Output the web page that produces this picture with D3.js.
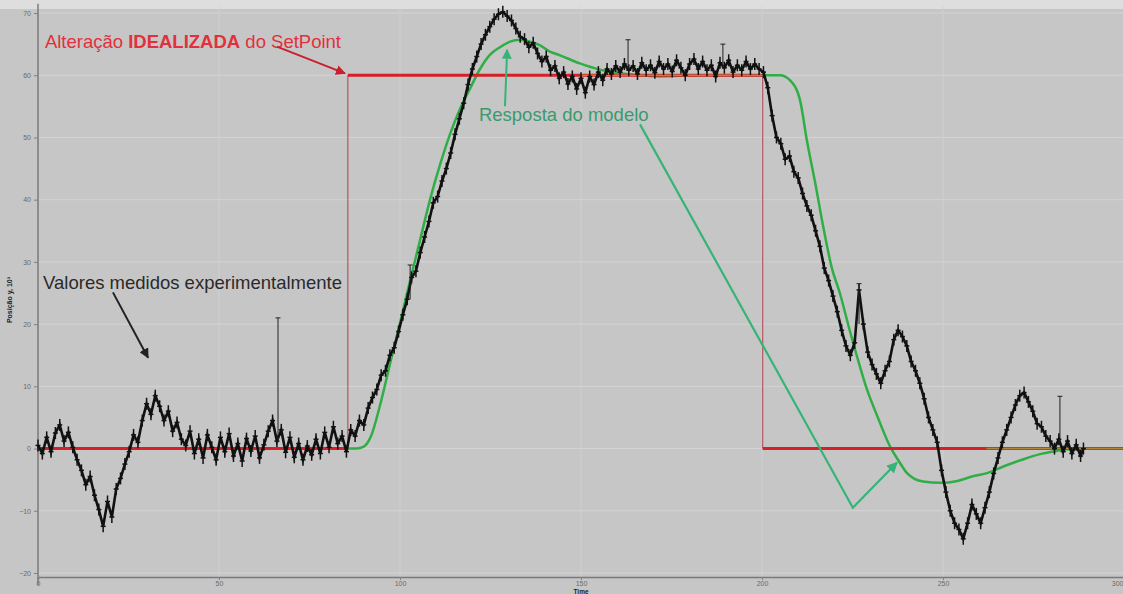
<!DOCTYPE html>
<html>
<head>
<meta charset="utf-8">
<script src="https://cdn.jsdelivr.net/npm/d3@7"></script>
<style>
  html, body { margin: 0; padding: 0; background: #c6c6c6; }
  svg { display: block; }
  text { font-family: "Liberation Sans", Arial, sans-serif; }
</style>
</head>
<body>
<svg id="chart" width="1123" height="594"></svg>
<script>
// Axis ticks
const xTicks = [0, 50, 100, 150, 200, 250, 300];
const yTicks = [-20, -10, 0, 10, 20, 30, 40, 50, 60, 70];

// Setpoint (idealised step change)
const setpointT = [0, 85.6, 85.6, 200.2, 200.2, 300];
const setpointV = [0, 0, 60, 60, 0, 0];

// Model response
const modelT = [0, 88, 90, 92, 94.5, 97.2, 100, 102.8, 105.5, 108.3, 111, 113.8, 116.6, 119.3, 122.1, 124.9, 127.6, 130.4, 133.1, 135.9, 138.7, 141.4, 144.2, 149.7, 155.2, 160.8, 166.3, 171.8, 182.9, 193.9, 205, 207.7, 210.5, 212.4, 214.6, 216.9, 219.3, 221.5, 224, 226.5, 229, 232, 235.4, 238, 240, 244.5, 249.2, 254, 258, 262.4, 267, 271.8, 276.8, 282, 287.8, 300];
const modelV = [0, 0, 0.3, 2, 7, 13.5, 20.2, 27, 33.4, 40, 45.5, 50.5, 54.6, 57.8, 61, 63.3, 64.5, 65.4, 65.7, 65.4, 64.8, 63.8, 63.2, 61.9, 60.9, 60.3, 60, 59.8, 60, 60, 60, 59.2, 56, 49.5, 43, 35.7, 29, 25, 19.5, 14.3, 9.5, 5, 0.3, -2.2, -3.9, -5.3, -5.5, -5.2, -4.5, -3.9, -2.8, -1.8, -0.9, -0.3, 0, 0];

// Experimental measurements [time, value]
const measured = [
[0,0.5],[1.2,-0.8],[2.4,1.8],[3.6,-0.5],[4.8,2.5],[6,3.8],[7.2,1.2],[8.4,2.6],[9.6,0.2],[10.8,-1.8],[12,-3.5],[13.2,-5.8],[14.4,-4.5],[15.6,-7.5],[16.8,-9.8],[18,-12.5],[19.2,-8.5],[20.4,-11],[21.6,-6.5],[22.8,-4.8],[24,-2.5],[25.2,-0.5],[26.4,2.2],[27.6,1],[28.8,4.5],[30,7.2],[31.2,5.5],[32.4,8.5],[33.6,6.8],[34.8,4.5],[36,6],[37.2,2.8],[38.4,4.2],[39.6,1.5],[40.8,0.5],[42,2.8],[43.2,-0.8],[44.4,1.5],[45.6,-1.5],[46.8,2.2],[48,0.2],[49.2,-1.8],[50.4,1.8],[51.6,-0.5],[52.8,2.4],[54,-1.2],[55.2,0.8],[56.4,-2],[57.6,1.6],[58.8,-0.4],[60,2],[61.2,-1.5],[62.4,0.6],[63.6,2.8],[64.8,4.5],[66,1.2],[67.2,3],[68.4,-0.6],[69.6,1.8],[70.8,-1.4],[72,0.8],[73.2,-1.8],[74.4,0.4],[75.6,-1],[76.8,1.5],[78,-0.8],[79.2,2.6],[80.4,0.2],[81.6,3.5],[82.8,0.8],[84,2],[85.2,-0.5],[86.4,3],[87.6,2],[88.8,4.5],[90,3.8],[91.2,6.5],[92.4,8.2],[93.6,9.5],[94.8,11.8],[96,12.5],[97.2,15],[98.4,16.2],[99.6,18.8],[100.8,21.5],[102,24],[103.2,27.5],[104.4,28.5],[105.6,31.5],[106.8,34],[108,36.5],[109.2,39.5],[110.4,40.5],[111.6,43],[112.8,45],[114,47.5],[115.2,50.5],[116.4,53],[117.6,55.5],[118.8,58.5],[120,61],[121.2,63],[122.4,65],[123.6,66.5],[124.8,67.8],[126,69],[127.2,69.8],[128.4,70.2],[129.6,69.5],[130.8,68.8],[132,67.5],[133.2,66.2],[134.4,65.8],[135.6,64.5],[136.8,65.2],[138,63.5],[139.2,62.2],[140.4,63],[141.6,60.8],[142.8,61.5],[144,59.5],[145.2,60.5],[146.4,58.6],[147.6,59.8],[148.8,57.8],[150,59.5],[151.2,57.2],[152.4,59.8],[153.6,58.5],[154.8,60.5],[156,59.2],[157.2,61],[158.4,60.2],[159.6,61.5],[160.8,60.5],[162,61.8],[163.2,60.8],[164.4,61.5],[165.6,60.2],[166.8,62],[168,60.8],[169.2,61.6],[170.4,60.4],[171.6,62.2],[172.8,61],[174,61.8],[175.2,60.6],[176.4,62.4],[177.6,61.2],[178.8,60],[180,61.8],[181.2,62.6],[182.4,61],[183.6,62.2],[184.8,60.8],[186,61.6],[187.2,59.8],[188.4,62],[189.6,61.2],[190.8,62.4],[192,60.5],[193.2,61.6],[194.4,60.8],[195.6,62.2],[196.8,61],[198,61.8],[199.2,61],[200.4,60.5],[201.6,58],[202.8,53.5],[204,50],[205.2,49],[206.4,46.5],[207.6,47],[208.8,44.5],[210,43.5],[211.2,41],[212.4,39],[213.6,37.5],[214.8,35],[216,32.5],[217.2,29],[218.4,27],[219.6,24.5],[220.8,22],[222,19],[223.2,16.5],[224.4,15],[225.6,17],[226.8,25.5],[228,20],[229.2,15.5],[230.4,13.5],[231.6,12],[232.8,10.5],[234,12.5],[235.2,14],[236.4,17.5],[237.6,19],[238.8,18],[240,16.5],[241.2,14],[242.4,12.5],[243.6,10.5],[244.8,8],[246,5],[247.2,3],[248.4,1],[249.6,-3.5],[250.8,-7],[252,-10],[253.2,-12],[254.4,-13],[255.6,-14.5],[256.8,-12],[258,-9],[259.2,-10.5],[260.4,-12],[261.6,-9.5],[262.8,-7],[264,-4],[265.2,-1.5],[266.4,1],[267.6,3],[268.8,5],[270,7],[271.2,8.5],[272.4,9],[273.6,7.5],[274.8,6],[276,4],[277.2,3.5],[278.4,2],[279.6,1.2],[280.8,0],[282,1.5],[283.2,-0.5],[284.4,1.2],[285.6,-0.8],[286.8,0.6],[288,-1.2],[288.8,0]
];

// Isolated error-bar spikes [time, low, high]
const spikes = [[66.3, 1, 21], [102.8, 24, 29.5], [163, 61, 65.7], [189.2, 61, 65], [226.8, 20, 26.5], [282.3, 1, 8.4]];

const svg = d3.select("#chart");
const W = 1123, H = 594;
const x = d3.scaleLinear().domain([0, 300]).range([38, 1124]);
const y = d3.scaleLinear().domain([-20, 70]).range([573, 13]);
const yBottom = -20.65;

// background
svg.append("rect").attr("width", W).attr("height", H).attr("fill", "#c6c6c6");
svg.append("rect").attr("width", W).attr("height", 9).attr("fill", "#dedede");

// grid
const g = svg.append("g");
g.selectAll(".hg").data(yTicks).join("line")
  .attr("x1", x(0)).attr("x2", x(300)).attr("y1", d => y(d)).attr("y2", d => y(d))
  .attr("stroke", "#d4d4d4").attr("stroke-width", 1);
g.selectAll(".vg").data(xTicks.slice(1, -1)).join("line")
  .attr("x1", d => x(d)).attr("x2", d => x(d)).attr("y1", y(71)).attr("y2", y(yBottom))
  .attr("stroke", "#d0d0d0").attr("stroke-width", 1);

// axes
const yAxis = d3.axisLeft(y).tickValues(yTicks).tickSize(4).tickPadding(3).tickFormat(d3.format("d"));
const ya = svg.append("g").attr("transform", `translate(${x(0)},0)`).call(yAxis);
const xAxis = d3.axisBottom(x).tickValues(xTicks).tickSize(3).tickPadding(1).tickFormat(d3.format("d"));
const xa = svg.append("g").attr("transform", `translate(0,${y(yBottom)})`).call(xAxis);
[ya, xa].forEach(a => {
  a.select(".domain").attr("stroke", "#7a7a7a").attr("stroke-width", 1.5);
  a.selectAll(".tick line").attr("stroke", "#808080");
  a.selectAll(".tick text").attr("fill", "#6a6a6a").attr("font-size", 7).attr("font-family", "Liberation Sans, Arial");
});
xa.selectAll(".tick text").filter(d => d === 300).attr("text-anchor", "end").attr("dx", -1);
ya.select(".domain").attr("d", `M0,${y(71.5)}V${y(yBottom) + 8}`);
svg.append("text").attr("transform", "translate(12,300) rotate(-90)")
  .attr("text-anchor", "middle").attr("font-size", 7).attr("font-weight", "bold").attr("fill", "#222")
  .text("Posição y, 10³");
svg.append("text").attr("x", x(150)).attr("y", 594).attr("text-anchor", "middle")
  .attr("font-size", 6.5).attr("font-weight", "bold").attr("fill", "#222").text("Time");

// model response (drawn under the setpoint)
const model = modelT.map((t, i) => [t, modelV[i]]);
const line = d3.line().x(d => x(d[0])).y(d => y(d[1]));
svg.append("path").datum(model)
  .attr("d", line.curve(d3.curveMonotoneX))
  .attr("fill", "none").attr("stroke", "#2fae46").attr("stroke-width", 2.5);

// setpoint: thin vertical connectors and thick horizontal runs
const sp = setpointT.map((t, i) => [t, setpointV[i]]);
for (let i = 0; i < sp.length - 1; i++) {
  const a = sp[i], b = sp[i + 1];
  const vertical = a[0] === b[0];
  svg.append("line")
    .attr("x1", x(a[0])).attr("y1", y(a[1])).attr("x2", x(b[0])).attr("y2", y(b[1]))
    .attr("stroke", vertical ? "#b04050" : "#d61f26")
    .attr("stroke-width", vertical ? 1 : 3);
}

// olive overlap where model sits on the setpoint
const overlap = [[[150, 60], [201, 60]], [[262, 0], [300, 0]]];
overlap.forEach(seg => svg.append("path").datum(seg)
  .attr("d", d3.line().x(d => x(d[0])).y(d => y(d[1])))
  .attr("stroke", "#a8a040").attr("stroke-width", 1.5).attr("opacity", 0.8));

// measured data: line + cross markers
svg.append("path").datum(measured)
  .attr("d", d3.line().x(d => x(d[0])).y(d => y(d[1])))
  .attr("fill", "none").attr("stroke", "#111").attr("stroke-width", 2.6);
const mk = svg.append("g").attr("stroke", "#111").attr("stroke-width", 1.5);
mk.selectAll(".mv").data(measured).join("line")
  .attr("x1", d => x(d[0])).attr("x2", d => x(d[0]))
  .attr("y1", d => y(d[1]) - 6).attr("y2", d => y(d[1]) + 6);
mk.selectAll(".mh").data(measured).join("line")
  .attr("x1", d => x(d[0]) - 2.5).attr("x2", d => x(d[0]) + 2.5)
  .attr("y1", d => y(d[1])).attr("y2", d => y(d[1]));
const sk = svg.append("g").attr("stroke", "#222").attr("stroke-width", 1);
sk.selectAll(".s").data(spikes).join("line")
  .attr("x1", d => x(d[0])).attr("x2", d => x(d[0]))
  .attr("y1", d => y(d[1])).attr("y2", d => y(d[2]));
sk.selectAll(".sc").data(spikes).join("line")
  .attr("x1", d => x(d[0]) - 2.5).attr("x2", d => x(d[0]) + 2.5)
  .attr("y1", d => y(d[2])).attr("y2", d => y(d[2]));

// annotations
const defs = svg.append("defs");
function marker(id, color) {
  defs.append("marker").attr("id", id).attr("viewBox", "0 0 10 10")
    .attr("refX", 9).attr("refY", 5).attr("markerWidth", 5).attr("markerHeight", 5)
    .attr("orient", "auto")
    .append("path").attr("d", "M0,0L10,5L0,10z").attr("fill", color);
}
marker("ar", "#c8202e"); marker("ag", "#35b477"); marker("ak", "#222");

function arrow(pts, color, id, w) {
  svg.append("path").datum(pts)
    .attr("d", d3.line().x(d => x(d[0])).y(d => y(d[1])))
    .attr("fill", "none").attr("stroke", color).attr("stroke-width", w)
    .attr("marker-end", `url(#${id})`);
}

const fs = 18.5;
const t1 = svg.append("text").attr("x", x(1.9)).attr("y", y(64.3))
  .attr("font-size", fs).attr("fill", "#e2303c");
t1.append("tspan").text("Alteração ");
t1.append("tspan").attr("font-weight", "bold").text("IDEALIZADA");
t1.append("tspan").text(" do SetPoint");
arrow([[66, 64.6], [84.8, 60.3]], "#c8202e", "ar", 2);

svg.append("text").attr("x", x(121.8)).attr("y", y(52.6))
  .attr("font-size", fs).attr("fill", "#3a9a6e").text("Resposta do modelo");
arrow([[129, 55], [129.6, 64.1]], "#35b477", "ag", 2);
arrow([[166.3, 52.1], [225.1, -9.5], [237.3, -2.25]], "#35b477", "ag", 2.2);

svg.append("text").attr("x", x(1.4)).attr("y", y(25.6))
  .attr("font-size", fs).attr("fill", "#2a2a2a").text("Valores medidos experimentalmente");
arrow([[20.7, 25.1], [30.4, 14.6]], "#222", "ak", 2);
</script>
</body>
</html>
